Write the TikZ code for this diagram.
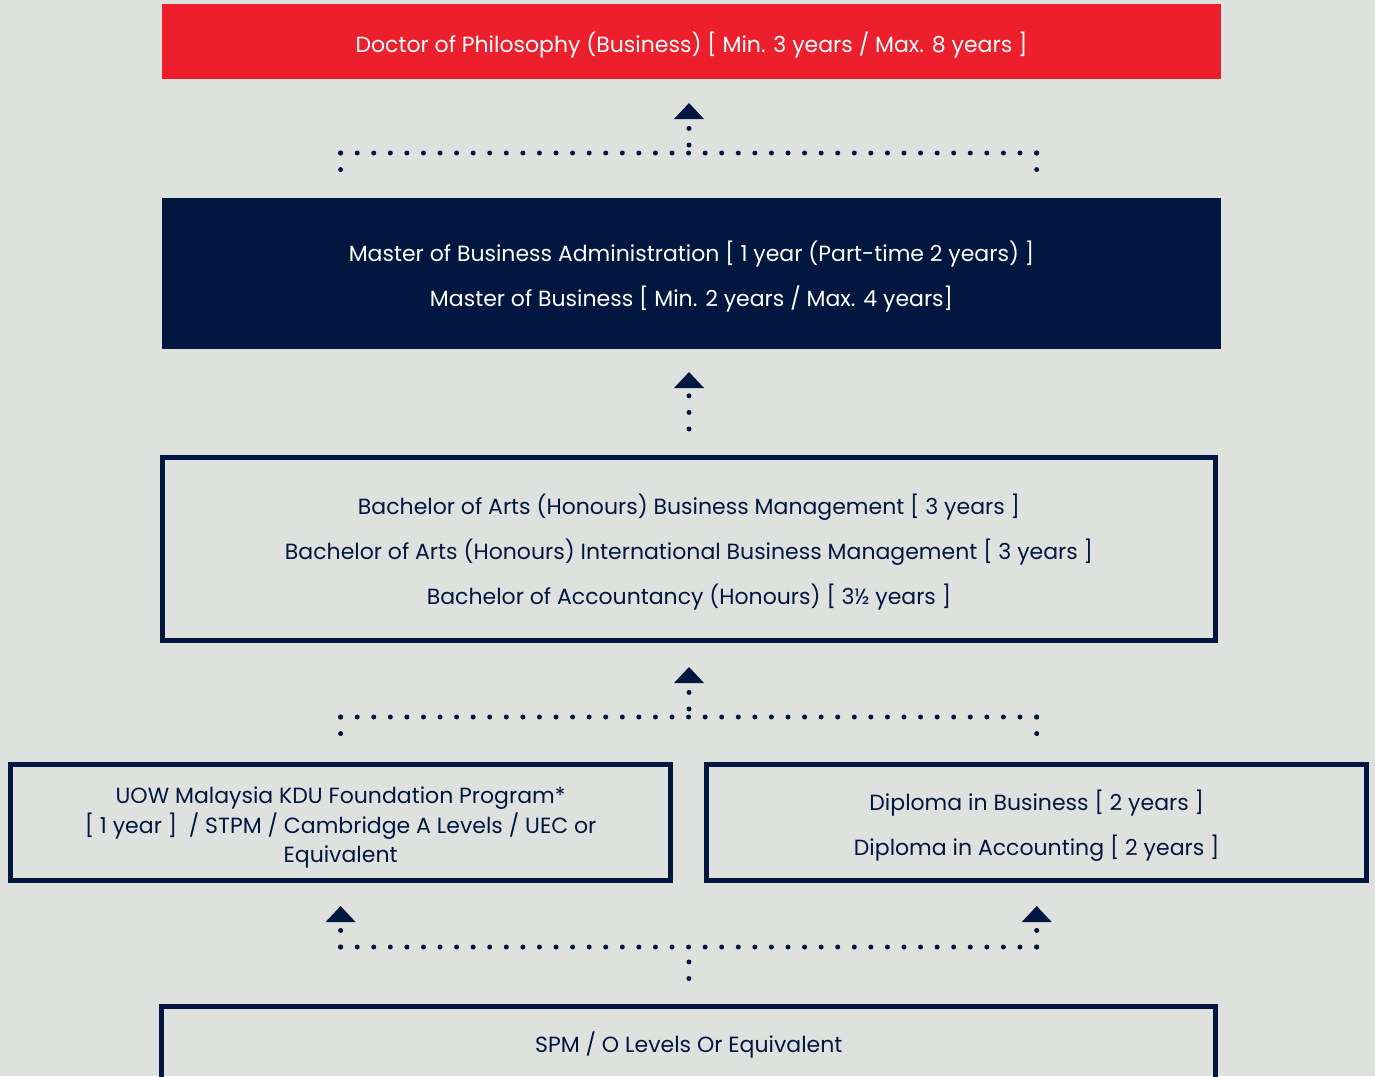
\documentclass[tikz,border=0pt]{standalone}
\usepackage{fontspec}
\setmainfont{Poppins}
\usepackage{tikz}
\usetikzlibrary{calc}
\definecolor{uownavy}{HTML}{02173F}
\definecolor{uowred}{HTML}{EE1F2C}
\definecolor{uowgray}{HTML}{DFE1DE}

\begin{document}
\begin{tikzpicture}[
    x=1pt, y=-1pt,
    every node/.style={font=\fontsize{22}{45}\selectfont, align=center, inner sep=0pt},
    redbox/.style={fill=uowred, text=white, minimum width=1059pt, minimum height=75pt},
    navybox/.style={fill=uownavy, text=white, minimum width=1059pt, minimum height=151pt},
    outbox/.style={draw=uownavy, line width=5pt, text=uownavy},
    dots/.style={draw=uownavy, line width=5pt, line cap=round, dash pattern=on 0pt off 16.57pt},
    head/.style={fill=uownavy}
]
    \useasboundingbox (0,0) rectangle (1375,1076);
    \fill[uowgray] (0,0) rectangle (1375,1076);
    \clip (0,0) rectangle (1375,1076);

    % Doctorate
    \node[redbox, text height=21pt, text depth=0pt] (phd) at (691.5,41.5) {Doctor of Philosophy (Business) [ Min. 3 years / Max. 8 years ]};

    % Masters
    \node[navybox, text height=67pt, text depth=0pt] (master) at (691.5,273) {Master of Business Administration [ 1 year (Part-time 2 years) ]\\Master of Business [ Min. 2 years / Max. 4 years]};

    % Bachelors
    \node[outbox, minimum width=1053pt, minimum height=183pt, text height=111pt, text depth=0pt] (bachelor) at (689,549) {Bachelor of Arts (Honours) Business Management [ 3 years ]\\Bachelor of Arts (Honours) International Business Management [ 3 years ]\\Bachelor of Accountancy (Honours) [ 3½ years ]};

    % Pre-university
    \node[outbox, minimum width=660pt, minimum height=116pt, font=\fontsize{22}{29.5}\selectfont, text height=81pt, text depth=0pt] (foundation) at (340.6,822) {UOW Malaysia KDU Foundation Program*\\{[} 1 year ] \ / STPM / Cambridge A Levels / UEC or\\Equivalent};
    \node[outbox, minimum width=660pt, minimum height=116pt, text height=67pt, text depth=0pt] (diploma) at (1036.7,822) {Diploma in Business [ 2 years ]\\Diploma in Accounting [ 2 years ]};

    % Entry
    \node[outbox, minimum width=1054pt, minimum height=78pt, text height=15pt, text depth=0pt] (spm) at (688.8,1045) {SPM / O Levels Or Equivalent};

    % Joins and arrowheads
    \coordinate (joinA) at (689,153);
    \coordinate (joinB) at (689,717);
    \coordinate (joinC) at (689,947);
    \coordinate (tipA) at (689,119);
    \coordinate (tipB) at (689,388);
    \coordinate (tipC) at (689,683);
    \coordinate (tipL) at ($(foundation.south)+(0,39.5)$);
    \coordinate (tipR) at ($(diploma.south)+(0,39.5)$);

    % Master to PhD
    \draw[dots] (joinA -| foundation.north) -- (joinA -| diploma.north);
    \draw[dots, shorten >=25pt] (joinA -| foundation.north) -- (master.north -| foundation.north);
    \draw[dots, shorten >=25pt] (joinA -| diploma.north) -- (master.north -| diploma.north);
    \draw[dots, shorten <=8pt] (joinA) -- (tipA);

    % Bachelor to Master
    \draw[dots, shorten <=26pt] (bachelor.north) -- (tipB);

    % Foundation / Diploma to Bachelor
    \draw[dots] (joinB -| foundation.north) -- (joinB -| diploma.north);
    \draw[dots, shorten >=25pt] (joinB -| foundation.north) -- (foundation.north);
    \draw[dots, shorten >=25pt] (joinB -| diploma.north) -- (diploma.north);
    \draw[dots, shorten <=8pt] (joinB) -- (tipC);

    % SPM to Foundation / Diploma
    \draw[dots, shorten <=25pt] (spm.north) -- (joinC);
    \draw[dots] (joinC -| foundation.south) -- (joinC -| diploma.south);
    \draw[dots] (joinC -| foundation.south) -- (tipL);
    \draw[dots] (joinC -| diploma.south) -- (tipR);

    \foreach \t in {tipA,tipB,tipC,tipL,tipR}
        \fill[head] (\t) ++(-15,0) -- ++(30,0) -- ++(-15,-16) -- cycle;
\end{tikzpicture}
\end{document}
